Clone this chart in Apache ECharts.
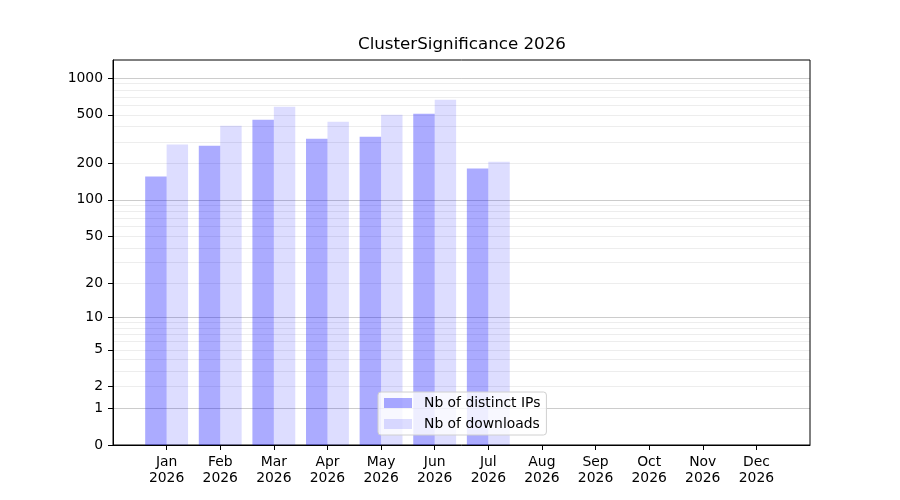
<!DOCTYPE html>
<html>
<head>
<meta charset="utf-8">
<script src="https://cdn.jsdelivr.net/npm/echarts@6/dist/echarts.min.js"></script>
<style>
  html, body { margin: 0; padding: 0; background: #fff; }
  #chart { width: 900px; height: 500px; }
</style>
</head>
<body>
<div id="chart"></div>
<script>
// data
const months = ['Jan', 'Feb', 'Mar', 'Apr', 'May', 'Jun', 'Jul', 'Aug', 'Sep', 'Oct', 'Nov', 'Dec'];
const year = '2026';
const distinctIPs = [156, 279, 456, 318, 331, 511, 181];
const downloads = [285, 407, 583, 439, 501, 665, 206];

// y axis ticks (values in data space)
const yTickLabels = [0, 1, 2, 5, 10, 20, 50, 100, 200, 500, 1000];
const yMajorGrid = [1, 10, 100, 1000];
const yMinorGrid = [2, 3, 4, 5, 6, 7, 8, 9, 20, 30, 40, 50, 60, 70, 80, 90, 200, 300, 400, 500, 600, 700, 800, 900];

// the y scale is log10(v + 1)
const fwd = v => Math.log10(v + 1);
const inv = t => Math.round(Math.pow(10, t) - 1);
const yMax = 3.148;

const font = 'DejaVu Sans';

const chart = echarts.init(document.getElementById('chart'));

const hiddenY = (vals, color) => ({
  type: 'value',
  min: 0,
  max: yMax,
  position: 'left',
  axisLabel: { show: false },
  axisLine: { show: false, onZero: false },
  axisTick: { show: false, customValues: vals.map(fwd) },
  splitLine: { show: true, lineStyle: { color: color, width: 1 } }
});

const option = {
  backgroundColor: '#fff',
  animation: false,
  title: {
    text: 'ClusterSignificance 2026',
    left: 358,
    top: 36,
    padding: 0,
    textStyle: { fontFamily: font, fontSize: 16.7, fontWeight: 'normal', color: '#000' }
  },
  grid: {
    left: 113,
    right: 90,
    top: 60,
    bottom: 55,
    show: true,
    borderColor: '#000',
    borderWidth: 1,
    backgroundColor: 'transparent'
  },
  legend: {
    orient: 'vertical',
    left: 378,
    top: 392,
    padding: [4, 6, 4, 6],
    itemWidth: 28,
    itemHeight: 10,
    itemGap: 7,
    icon: 'rect',
    backgroundColor: 'rgba(255,255,255,0.8)',
    borderColor: '#d0d0d0',
    borderWidth: 1,
    borderRadius: 3,
    textStyle: { fontFamily: font, fontSize: 13.9, color: '#000', lineHeight: 14, padding: [0, 0, 0, 7] },
    data: ['Nb of distinct IPs', 'Nb of downloads']
  },
  xAxis: {
    type: 'value',
    min: -1,
    max: 12,
    axisLine: { show: true, onZero: false, lineStyle: { color: '#000', width: 1 } },
    axisTick: { show: true, inside: false, length: 5, lineStyle: { color: '#000' }, customValues: months.map((m, i) => i) },
    axisLabel: {
      customValues: months.map((m, i) => i),
      formatter: v => months[v] + '\n' + year,
      fontFamily: font,
      fontSize: 13.9,
      lineHeight: 16,
      color: '#000',
      margin: 9
    },
    splitLine: { show: false }
  },
  yAxis: [
    {
      type: 'value',
      min: 0,
      max: yMax,
      axisLine: { show: true, onZero: false, lineStyle: { color: '#000', width: 1 } },
      axisTick: { show: true, inside: false, length: 5, lineStyle: { color: '#000' }, customValues: yTickLabels.map(fwd) },
      axisLabel: {
        customValues: yTickLabels.map(fwd),
        formatter: v => String(inv(v)),
        fontFamily: font,
        fontSize: 13.9,
        color: '#000',
        margin: 10
      },
      splitLine: { show: false }
    },
    hiddenY(yMajorGrid, 'rgba(0,0,0,0.2)'),
    hiddenY(yMinorGrid, 'rgba(0,0,0,0.07)')
  ],
  series: [
    {
      name: 'Nb of distinct IPs',
      type: 'bar',
      yAxisIndex: 0,
      barWidth: '40%',
      barGap: '0%',
      itemStyle: { color: 'rgba(0,0,255,0.33)' },
      data: distinctIPs.map((v, i) => [i, fwd(v)])
    },
    {
      name: 'Nb of downloads',
      type: 'bar',
      yAxisIndex: 0,
      barWidth: '40%',
      barGap: '0%',
      itemStyle: { color: 'rgba(0,0,255,0.135)' },
      data: downloads.map((v, i) => [i, fwd(v)])
    }
  ]
};

chart.setOption(option);
</script>
</body>
</html>
